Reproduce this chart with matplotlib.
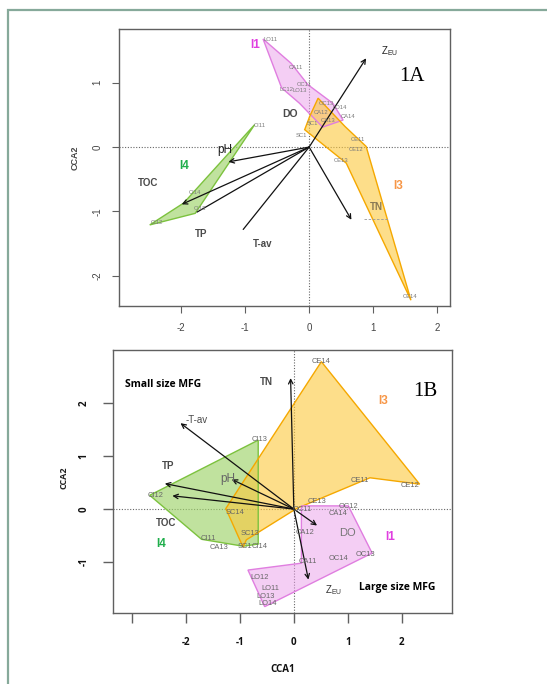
import matplotlib
matplotlib.use("Agg")
import matplotlib.pyplot as plt
from matplotlib.patches import Polygon, Rectangle
import numpy as np

# ---------------- DATA : panel 1A ----------------
A_env = ["ZEU", "pH", "TOC", "TP", "T-av", "TN"]
A_env_x = [0.89, -1.26, -1.99, -1.75, -1.03, 0.66]
A_env_y = [1.38, -0.23, -0.89, -1.01, -1.28, -1.13]
A_env_head = [True, True, True, False, False, True]

A_I1_x = [-0.72, -0.28, -0.02, 0.37, 0.53, 0.21, -0.15, -0.43]
A_I1_y = [1.68, 1.30, 0.97, 0.68, 0.42, 0.31, 0.68, 0.92]
A_I3_x = [0.14, 0.56, 0.89, 1.59, 0.58, -0.07, 0.01]
A_I3_y = [0.76, 0.32, 0.01, -2.38, -0.25, 0.27, 0.48]
A_I4_x = [-0.85, -1.78, -2.49, -1.96]
A_I4_y = [0.35, -1.03, -1.21, -0.87]

A_sites = ["LO11", "CA11", "OC11", "LC12", "LO13", "OC13", "LO14", "CA14", "CA12", "CA13",
           "SC1", "SC1", "CE11", "CE12", "CE13", "CE14", "CI11", "CI14", "CI13", "CI12"]
A_site_x = [-0.61, -0.20, -0.07, -0.35, -0.15, 0.27, 0.48, 0.60, 0.19, 0.30,
            0.05, -0.12, 0.76, 0.74, 0.50, 1.57, -0.77, -1.78, -1.70, -2.38]
A_site_y = [1.67, 1.24, 0.97, 0.89, 0.88, 0.68, 0.61, 0.47, 0.53, 0.42,
            0.36, 0.18, 0.11, -0.03, -0.21, -2.32, 0.33, -0.70, -0.96, -1.18]

# ---------------- DATA : panel 1B ----------------
B_env = ["TN", "T-av", "TP", "TOC", "pH", "DO", "ZEU"]
B_env_x = [-0.06, -2.10, -2.39, -2.25, -1.15, 0.43, 0.27]
B_env_y = [2.47, 1.62, 0.48, 0.25, 0.56, -0.31, -1.33]

B_I3_x = [0.51, 2.33, 1.41, 0.05, -0.88, -0.94, -1.26]
B_I3_y = [2.78, 0.47, 0.59, 0.01, -0.58, -0.72, 0.01]
B_I4_x = [-0.66, -2.67, -1.71, -0.94, -0.66]
B_I4_y = [1.30, 0.26, -0.57, -0.70, -0.66]
B_I1_x = [0.14, 1.01, 1.45, -0.54, -0.85, 0.14]
B_I1_y = [0.06, 0.06, -0.83, -1.84, -1.15, -1.02]

B_sites = ["CE14", "CE12", "CE11", "CE13", "SC14", "SC13", "SC1", "CI13", "CI12", "CI11",
           "CA13", "CI14", "OC11", "CA12", "CA14", "OC12", "OC14", "OC13", "CA11",
           "LO12", "LO11", "LO13", "LO14"]
B_site_x = [0.51, 2.15, 1.22, 0.42, -1.09, -0.82, -0.90, -0.63, -2.57, -1.58,
            -1.38, -0.63, 0.15, 0.20, 0.82, 1.02, 0.82, 1.33, 0.25,
            -0.63, -0.43, -0.52, -0.48]
B_site_y = [2.78, 0.45, 0.53, 0.15, -0.06, -0.46, -0.70, 1.31, 0.25, -0.55,
            -0.72, -0.70, 0.00, -0.45, -0.09, 0.04, -0.94, -0.85, -0.99,
            -1.29, -1.50, -1.65, -1.78]

# ---------------- style ----------------
GREEN_F, GREEN_E = "#9fd36a", "#7cc23e"
ORANGE_F, ORANGE_E = "#fcc83c", "#f5a800"
PINK_F, PINK_E = "#eb9fea", "#e07ee0"
SITE_C = "#7a7a7a"
ENV_C = "#4a4a4a"
SANS = "Liberation Sans"
BOLD = "Open Sans"

W, H = 547, 684
fig = plt.figure(figsize=(W / 100, H / 100), dpi=100)

# figure frame (green-grey)
fig.add_artist(Rectangle((8 / W, -0.05), 1.2, 1 - 10 / H + 0.05, transform=fig.transFigure,
                         fill=False, ec="#86a99a", lw=1.6))


def axrect(l, t, r, b):
    return [l / W, 1 - b / H, (r - l) / W, (b - t) / H]


def setup(ax):
    for s in ax.spines.values():
        s.set_color("#606060")
        s.set_linewidth(1.0)
    ax.axhline(0, ls=(0, (1, 1.5)), color="#666666", lw=0.8, zorder=1)
    ax.axvline(0, ls=(0, (1, 1.5)), color="#666666", lw=0.8, zorder=1)


def poly(ax, xs, ys, fc, ec, alpha=0.55):
    ax.add_patch(Polygon(np.column_stack([xs, ys]), closed=True, fc=fc, ec="none",
                         alpha=alpha, zorder=2))
    ax.add_patch(Polygon(np.column_stack([xs, ys]), closed=True, fc="none", ec=ec,
                         lw=1.0, zorder=3))


def arrow(ax, x, y, head=True, lw=0.9):
    ax.annotate("", xy=(x, y), xytext=(0, 0),
                arrowprops=dict(arrowstyle="->" if head else "-", color="#111111",
                                lw=lw, shrinkA=0, shrinkB=0, mutation_scale=8), zorder=5)

# ================= PANEL 1A =================
axA = fig.add_axes(axrect(119, 29, 450, 306))
axA.set_xlim(-2.97, 2.2)
axA.set_ylim(-2.47, 1.835)
setup(axA)
poly(axA, A_I4_x, A_I4_y, GREEN_F, GREEN_E, 0.65)
poly(axA, A_I1_x, A_I1_y, PINK_F, PINK_E, 0.5)
poly(axA, A_I3_x, A_I3_y, ORANGE_F, ORANGE_E, 0.6)
for x, y, h in zip(A_env_x, A_env_y, A_env_head):
    arrow(axA, x, y, h)
for s, x, y in zip(A_sites, A_site_x, A_site_y):
    axA.text(x, y, s, fontsize=4.2, color=SITE_C, ha="center", va="center",
             family=SANS, zorder=6)
# faint dashed mark right of TN
axA.plot([0.85, 1.25], [-1.12, -1.12], ls=(0, (3, 2)), color="#999999", lw=0.6, zorder=4)

A_txt = [("Z$_{\\mathregular{EU}}$", 1.26, 1.49, 7, "#222222", "normal"),
         ("DO", -0.30, 0.51, 7.5, ENV_C, "bold"),
         ("pH", -1.31, -0.04, 8.5, "#222222", "normal"),
         ("TOC", -2.52, -0.56, 7, ENV_C, "bold"),
         ("TP", -1.68, -1.35, 7, ENV_C, "bold"),
         ("T-av", -0.73, -1.51, 7, ENV_C, "bold"),
         ("TN", 1.05, -0.93, 7, "#8a7a55", "bold")]
for t, x, y, fs, c, w in A_txt:
    axA.text(x, y, t, fontsize=fs, color=c, fontweight=w, ha="center", va="center",
             family=SANS, zorder=7)
axA.text(-0.85, 1.58, "I1", fontsize=8.5, color="#e03ee0", fontweight="bold",
         ha="center", va="center", family=SANS)
axA.text(1.39, -0.61, "I3", fontsize=8.5, color="#f79646", fontweight="bold",
         ha="center", va="center", family=SANS)
axA.text(-1.95, -0.30, "I4", fontsize=8.5, color="#1fae4b", fontweight="bold",
         ha="center", va="center", family=SANS)
axA.text(1.6, 1.1, "1A", fontsize=15, family="Liberation Serif", ha="center", va="center")

axA.set_xticks([-2, -1, 0, 1, 2])
axA.set_yticks([-2, -1, 0, 1])
axA.tick_params(axis="both", direction="out", length=5, width=0.8, color="#606060",
                labelsize=7, labelcolor="#444444", pad=7)
axA.set_xticklabels(["-2", "-1", "0", "1", "2"], family=SANS)
axA.set_yticklabels(["-2", "-1", "0", "1"], family=SANS)
for lab in axA.get_yticklabels():
    lab.set_rotation(90)
    lab.set_va("center")
fig.text(75 / W, 1 - 158 / H, "CCA2", rotation=90, fontsize=6.5, fontweight="bold",
         color="#444444", ha="center", va="center", family=SANS)

# ================= PANEL 1B =================
axB = fig.add_axes(axrect(113, 350, 452, 613))
axB.set_xlim(-3.35, 2.93)
axB.set_ylim(-1.96, 3.0)
setup(axB)
poly(axB, B_I4_x, B_I4_y, GREEN_F, GREEN_E, 0.65)
poly(axB, B_I3_x, B_I3_y, ORANGE_F, ORANGE_E, 0.6)
poly(axB, B_I1_x, B_I1_y, PINK_F, PINK_E, 0.5)
for x, y in zip(B_env_x, B_env_y):
    arrow(axB, x, y, True)
for s, x, y in zip(B_sites, B_site_x, B_site_y):
    axB.text(x, y, s, fontsize=5.4, color="#666666", ha="center", va="center",
             family=SANS, zorder=6)

B_txt = [("TN", -0.51, 2.40, 7, ENV_C, "bold"),
         ("-T-av", -1.80, 1.68, 7, ENV_C, "normal"),
         ("TP", -2.33, 0.82, 7, ENV_C, "bold"),
         ("pH", -1.22, 0.56, 8.5, "#666666", "normal"),
         ("TOC", -2.36, -0.26, 7, ENV_C, "bold"),
         ("DO", 0.99, -0.45, 8, "#777777", "normal"),
         ("Z$_{\\mathregular{EU}}$", 0.73, -1.52, 7, "#333333", "normal")]
for t, x, y, fs, c, w in B_txt:
    axB.text(x, y, t, fontsize=fs, color=c, fontweight=w, ha="center", va="center",
             family=SANS, zorder=7)
axB.text(-3.12, 2.35, "Small size MFG", fontsize=7.5, fontweight="bold", family=BOLD,
         ha="left", va="center")
axB.text(2.62, -1.47, "Large size MFG", fontsize=7.5, fontweight="bold", family=BOLD,
         ha="right", va="center")
axB.text(1.65, 2.03, "I3", fontsize=8.5, color="#f79646", fontweight="bold",
         ha="center", va="center", family=SANS)
axB.text(1.78, -0.52, "I1", fontsize=8.5, color="#e03ee0", fontweight="bold",
         ha="center", va="center", family=SANS)
axB.text(-2.45, -0.65, "I4", fontsize=8.5, color="#1fae4b", fontweight="bold",
         ha="center", va="center", family=SANS)
axB.text(2.43, 2.21, "1B", fontsize=15, family="Liberation Serif", ha="center", va="center")

axB.set_xticks([-3, -2, -1, 0, 1, 2])
axB.set_xticklabels(["", "-2", "-1", "0", "1", "2"])
axB.set_yticks([-1, 0, 1, 2])
axB.set_yticklabels(["-1", "0", "1", "2"])
axB.tick_params(axis="both", direction="out", length=7, width=1.0, color="#606060",
                labelsize=7, labelcolor="#111111", pad=10)
for lab in axB.get_xticklabels() + axB.get_yticklabels():
    lab.set_fontweight("bold")
    lab.set_family(BOLD)
for lab in axB.get_yticklabels():
    lab.set_rotation(90)
    lab.set_va("center")
fig.text(64 / W, 1 - 478 / H, "CCA2", rotation=90, fontsize=6.5, fontweight="bold",
         color="#222222", ha="center", va="center", family=BOLD)
fig.text(283 / W, 1 - 670 / H, "CCA1", fontsize=7, fontweight="bold",
         color="#111111", ha="center", va="center", family=BOLD)

fig.savefig("out.png", dpi=100)
